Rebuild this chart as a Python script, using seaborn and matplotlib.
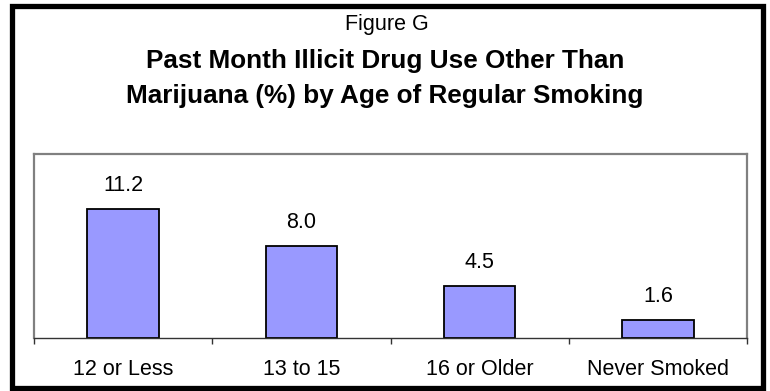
import matplotlib
matplotlib.use("Agg")
import matplotlib.pyplot as plt
from matplotlib.patches import Rectangle
import seaborn as sns
import pandas as pd

categories = ["12 or Less", "13 to 15", "16 or Older", "Never Smoked"]
values = [11.2, 8.0, 4.5, 1.6]
value_labels = ["11.2", "8.0", "4.5", "1.6"]
fig_label = "Figure G"
title_lines = ["Past Month Illicit Drug Use Other Than",
               "Marijuana (%) by Age of Regular Smoking"]

sns.set_theme(style="white")
plt.rcParams["font.family"] = ["Liberation Sans", "DejaVu Sans"]

W, H = 770, 391
fig = plt.figure(figsize=(W / 100, H / 100), dpi=100)
fig.patch.set_facecolor("white")

# axes placement (pixels -> fractions)
left, right, top, bottom = 34, 747, 154, 338
ax = fig.add_axes([left / W, 1 - bottom / H, (right - left) / W, (bottom - top) / H])

df = pd.DataFrame({"cat": categories, "val": values})
sns.barplot(data=df, x="cat", y="val", color="#9999FF", saturation=1,
            edgecolor="black", linewidth=1.3, width=0.4, ax=ax)

ax.set_xlim(-0.5, len(categories) - 0.5)
ax.set_ylim(0, 16)
ax.set_xlabel("")
ax.set_ylabel("")
ax.set_yticks([])

# ticks at category boundaries, labels at centers
ax.set_xticks([i - 0.5 for i in range(len(categories) + 1)])
ax.set_xticklabels([])
ax.set_xticks(range(len(categories)), minor=True)
ax.set_xticklabels(categories, minor=True, fontsize=15.5, color="black")
ax.tick_params(axis="x", which="major", direction="out", length=4.5, width=1.0,
               color="#333333", bottom=True)
ax.tick_params(axis="x", which="minor", length=0, pad=15)

for s in ["left", "top", "right"]:
    ax.spines[s].set_color("#808080")
    ax.spines[s].set_linewidth(1.6)
ax.spines["bottom"].set_color("#333333")
ax.spines["bottom"].set_linewidth(1.0)

for i, (v, lab) in enumerate(zip(values, value_labels)):
    ax.annotate(lab, xy=(i, v), xytext=(0, 13), textcoords="offset points",
                ha="center", va="baseline", fontsize=15.5, color="black")

# titles
fig.text(0.502, 1 - 30 / H, fig_label, ha="center", va="baseline", fontsize=15.5, color="black")
fig.text(0.5, 1 - 68 / H, title_lines[0], ha="center", va="baseline",
         fontsize=18.8, fontweight="bold", color="black")
fig.text(0.5, 1 - 103 / H, title_lines[1], ha="center", va="baseline",
         fontsize=18.8, fontweight="bold", color="black")

# outer frame
fig.add_artist(Rectangle((12 / W, 1 - 388 / H), (763 - 12) / W, (388 - 6) / H,
                         transform=fig.transFigure, fill=False,
                         edgecolor="black", linewidth=3.8))

fig.savefig("out.png", dpi=100, facecolor="white")
